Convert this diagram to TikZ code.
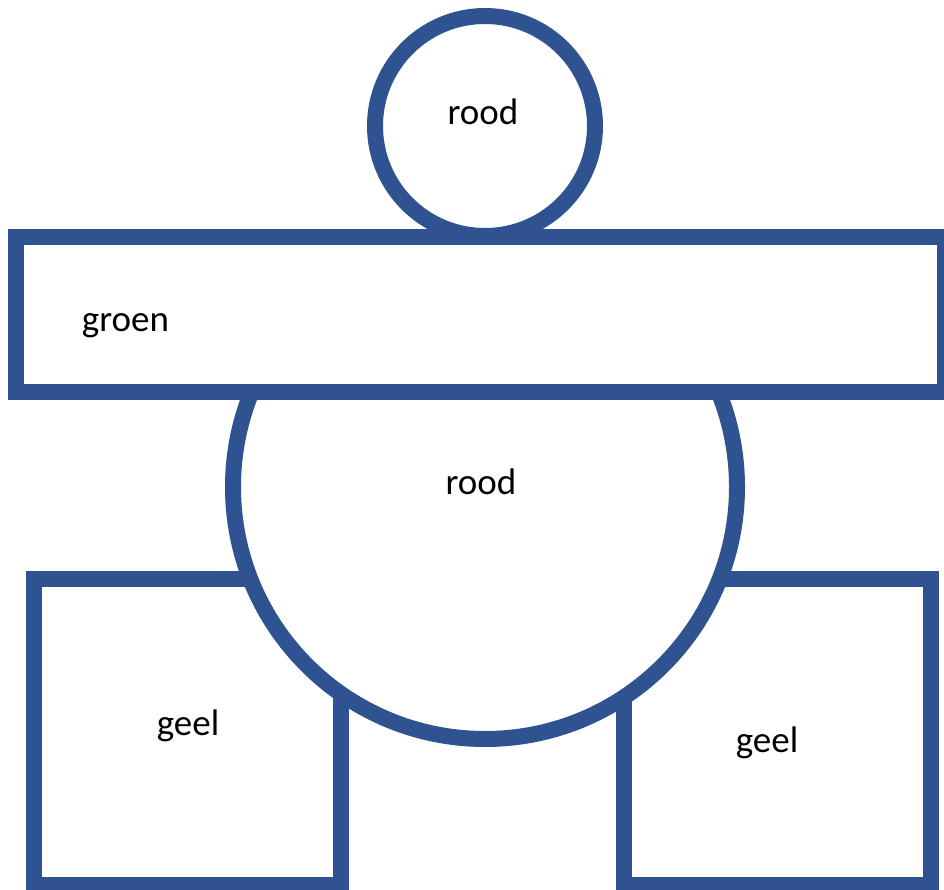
\documentclass[tikz,border=0pt]{standalone}
\usepackage{fontspec}
\setmainfont{Carlito}
\definecolor{shapeblue}{RGB}{47,83,145}
\begin{document}
\begin{tikzpicture}[x=1pt,y=-1pt,
  shapeline/.style={draw=shapeblue,line width=16pt,fill=white,inner sep=0pt,outer sep=0pt},
  roundshape/.style={shapeline,circle},
  boxshape/.style={shapeline,rectangle},
  lbl/.style={anchor=base,inner sep=0pt,font=\fontsize{37}{44}\selectfont}]
\useasboundingbox (0,0) rectangle (944,890);
\node[boxshape,minimum width=307pt,minimum height=306pt] (sqL) at (187.5,732) {};
\node[boxshape,minimum width=307pt,minimum height=306pt] (sqR) at (777,732) {};
\node[roundshape,minimum size=504pt] (bigc) at (485,487) {};
\node[roundshape,minimum size=220pt] (smallc) at (485,126) {};
\node[boxshape,minimum width=929pt,minimum height=155pt] (bar) at (480.5,314.5) {};
\node[lbl] (t1) at (483,125) {rood};
\node[lbl] (t2) at (125.5,331) {groen};
\node[lbl] (t3) at (481,494) {rood};
\node[lbl] (t4) at (188,735) {geel};
\node[lbl] (t5) at (767,752) {geel};
\end{tikzpicture}
\end{document}
